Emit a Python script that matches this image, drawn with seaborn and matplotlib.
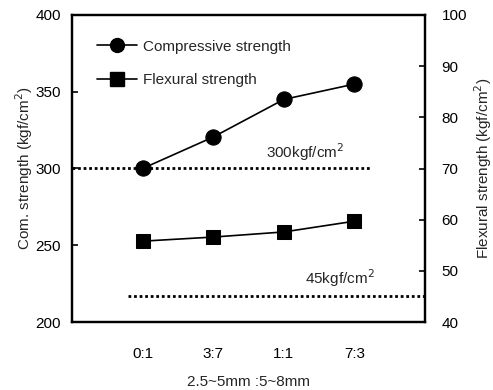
import matplotlib
matplotlib.use("Agg")
import matplotlib.pyplot as plt
import seaborn as sns
import pandas as pd
from matplotlib.lines import Line2D

sns.set_style("white")
plt.rcParams['font.family'] = ['Liberation Sans', 'DejaVu Sans']
fs = 11

categories = ["0:1", "3:7", "1:1", "7:3"]
compressive = [300, 320.5, 345, 355]
flexural = [55.8, 56.6, 57.6, 59.7]
comp_ref = 300
flex_ref = 45

df = pd.DataFrame({"x": range(len(categories)), "comp": compressive, "flex": flexural})

fig = plt.figure(figsize=(4.93, 3.90), dpi=100)
ax = fig.add_axes([72/493, 1-322/390, (425-72)/493, (322-15)/390])
ax2 = ax.twinx()

sns.lineplot(data=df, x="x", y="comp", ax=ax, color="black", marker="o",
             markersize=11, linewidth=1.2, markeredgecolor="black")
sns.lineplot(data=df, x="x", y="flex", ax=ax2, color="black", marker="s",
             markersize=10.5, linewidth=1.2, markeredgecolor="black")

ax.set_xlim(-1, 4)
ax.set_ylim(200, 400)
ax2.set_ylim(40, 100)
ax.set_xticks(range(len(categories)))
ax.set_xticklabels(categories)
ax.set_yticks([200, 250, 300, 350, 400])
ax2.set_yticks([40, 50, 60, 70, 80, 90, 100])

# reference lines
ax.plot([-1, 3.24], [comp_ref, comp_ref], color="black", linestyle=(0, (1, 1)), linewidth=2)
ax2.plot([-0.21, 4], [flex_ref, flex_ref], color="black", linestyle=(0, (1, 1)), linewidth=2)
ax.text(2.3, 303.5, "300kgf/cm$^2$", fontsize=fs, ha="center", va="bottom")
ax2.text(2.8, 46.4, "45kgf/cm$^2$", fontsize=fs, ha="center", va="bottom")

for a in (ax, ax2):
    for s in a.spines.values():
        s.set_linewidth(1.6)
        s.set_color("black")
    a.tick_params(direction="in", length=4, width=1.2, labelsize=fs, colors="black")
    a.set_xlabel("")
    a.set_ylabel("")
ax.tick_params(axis="x", pad=18)
ax.tick_params(axis="y", pad=8)
ax2.tick_params(axis="y", pad=12)

ax.set_ylabel("Com. strength (kgf/cm$^2$)", fontsize=fs, labelpad=0)
ax2.set_ylabel("Flexural strength (kgf/cm$^2$)", fontsize=fs, labelpad=4)
ax.set_xlabel("2.5~5mm :5~8mm", fontsize=fs, labelpad=10)

handles = [Line2D([], [], color="black", marker="o", markersize=10, linewidth=1.2),
           Line2D([], [], color="black", marker="s", markersize=10, linewidth=1.2)]
ax.legend(handles, ["Compressive strength", "Flexural strength"], loc="upper left",
          frameon=False, fontsize=fs, handlelength=2.6, handletextpad=0.4, labelspacing=1.3,
          bbox_to_anchor=(0.04, 0.955), borderaxespad=0.3)

fig.savefig("out.png", dpi=100)
